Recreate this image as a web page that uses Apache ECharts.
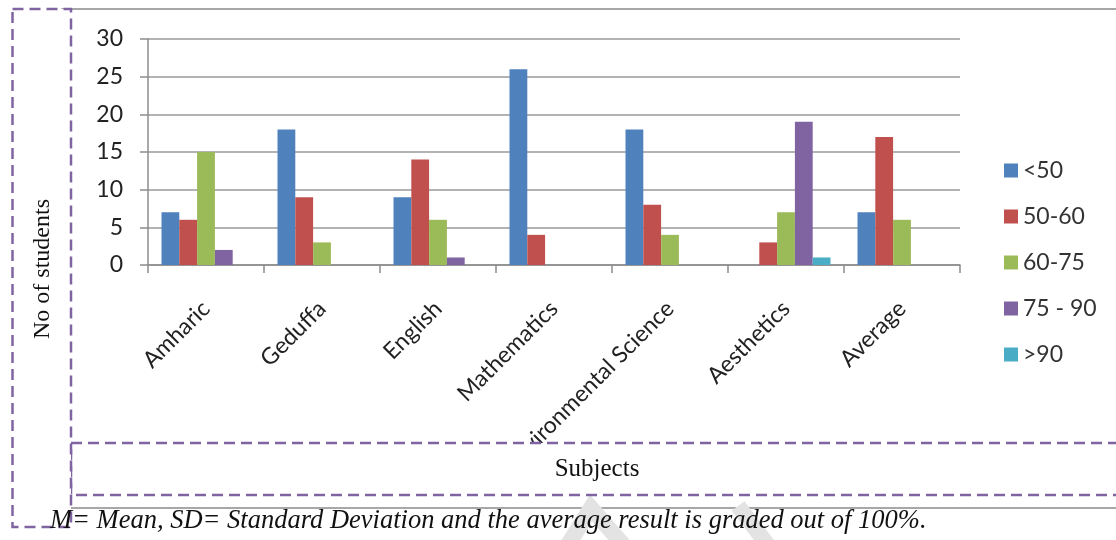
<!DOCTYPE html>
<html>
<head>
<meta charset="utf-8">
<script src="https://cdn.jsdelivr.net/npm/echarts@6/dist/echarts.min.js"></script>
<style>
  html, body { margin: 0; padding: 0; background: #fff; }
  #chart { width: 1116px; height: 540px; }
</style>
</head>
<body>
<div id="chart"></div>
<script>
// data
const subjects = ['Amharic', 'Geduffa', 'English', 'Mathematics', 'Environmental Science', 'Aesthetics', 'Average']
const below50 = [7, 18, 9, 26, 18, 0, 7]
const from50to60 = [6, 9, 14, 4, 8, 3, 17]
const from60to75 = [15, 3, 6, 0, 4, 7, 6]
const from75to90 = [2, 0, 1, 0, 0, 19, 0]
const above90 = [0, 0, 0, 0, 0, 1, 0]
const seriesNames = ['<50', '50-60', '60-75', '75 - 90', '>90']
const yTicks = { min: 0, max: 30, step: 5 }

const colors = ['#4F81BD', '#C0504D', '#9BBB59', '#8064A2', '#4BACC6']
const purple = '#8064A2'
const font = 'Lato, "Open Sans", sans-serif'

function makeBar(name, data) {
  return {
    name: name,
    type: 'bar',
    data: data,
    barWidth: 17.8,
    barGap: '0%',
    itemStyle: { borderWidth: 0 }
  }
}

const chart = echarts.init(document.getElementById('chart'))
chart.setOption({
  animation: false,
  color: colors,
  grid: { left: 148, right: 156, top: 39, bottom: 275 },
  legend: {
    orient: 'vertical',
    left: 999,
    top: 154,
    icon: 'rect',
    itemWidth: 14,
    itemHeight: 14,
    itemGap: 23,
    textStyle: { fontSize: 23, color: '#333', fontFamily: font }
  },
  xAxis: {
    type: 'category',
    data: subjects,
    axisLine: { lineStyle: { color: '#8c8c8c', width: 1.5 } },
    axisTick: { show: true, length: 8, alignWithLabel: false, lineStyle: { color: '#8c8c8c', width: 1.5 } },
    axisLabel: {
      interval: 0,
      rotate: 45,
      margin: 40,
      fontSize: 23,
      color: '#222',
      fontFamily: font
    }
  },
  yAxis: {
    type: 'value',
    min: yTicks.min,
    max: yTicks.max,
    interval: yTicks.step,
    axisLine: { show: true, lineStyle: { color: '#8c8c8c', width: 1.5 } },
    axisTick: { show: true, length: 8, lineStyle: { color: '#8c8c8c', width: 1.5 } },
    splitLine: { lineStyle: { color: '#9a9a9a', width: 1.5 } },
    axisLabel: { fontSize: 23, color: '#222', margin: 25, fontFamily: font }
  },
  graphic: [
    // outer chart frame
    {
      type: 'rect', z: -10, silent: true,
      shape: { x: 62, y: 9, width: 1100, height: 499 },
      style: { fill: 'none', stroke: '#8a8a8a', lineWidth: 1.5 }
    },
    // faint watermark strokes
    {
      type: 'polyline', z: -5, silent: true,
      shape: { points: [[566, 548], [591, 508], [626, 548]] },
      style: { stroke: '#e3e3e3', lineWidth: 16, fill: 'none' }
    },
    {
      type: 'line', z: -5, silent: true,
      shape: { x1: 738, y1: 506, x2: 770, y2: 548 },
      style: { stroke: '#e3e3e3', lineWidth: 16 }
    },
    // x axis name box
    {
      type: 'rect', z: 100, silent: true,
      shape: { x: 71, y: 443, width: 1070, height: 52 },
      style: { fill: '#fff', stroke: purple, lineWidth: 2.5, lineDash: [11, 6] }
    },
    {
      type: 'text', z: 101, silent: true,
      style: {
        x: 597, y: 469,
        text: 'Subjects',
        font: '25px "Liberation Serif", "Times New Roman", serif',
        fill: '#111',
        align: 'center',
        verticalAlign: 'middle'
      }
    },
    // y axis name box
    {
      type: 'rect', z: 102, silent: true,
      shape: { x: 12.5, y: 9, width: 58.5, height: 518 },
      style: { fill: '#fff', stroke: purple, lineWidth: 2.5, lineDash: [11, 6] }
    },
    {
      type: 'text', z: 103, silent: true,
      x: 43, y: 269, rotation: Math.PI / 2,
      style: {
        x: 0, y: 0,
        text: 'No of students',
        font: '24px "Liberation Serif", "Times New Roman", serif',
        fill: '#111',
        align: 'center',
        verticalAlign: 'middle'
      }
    },
    // footnote
    {
      type: 'text', z: 104, silent: true,
      style: {
        x: 50, y: 521,
        text: 'M= Mean, SD= Standard Deviation and the average result is graded out of 100%.',
        font: 'italic 26.5px "Liberation Serif", "Times New Roman", serif',
        fill: '#111',
        verticalAlign: 'middle'
      }
    }
  ],
  series: [
    makeBar(seriesNames[0], below50),
    makeBar(seriesNames[1], from50to60),
    makeBar(seriesNames[2], from60to75),
    makeBar(seriesNames[3], from75to90),
    makeBar(seriesNames[4], above90)
  ]
})
</script>
</body>
</html>
